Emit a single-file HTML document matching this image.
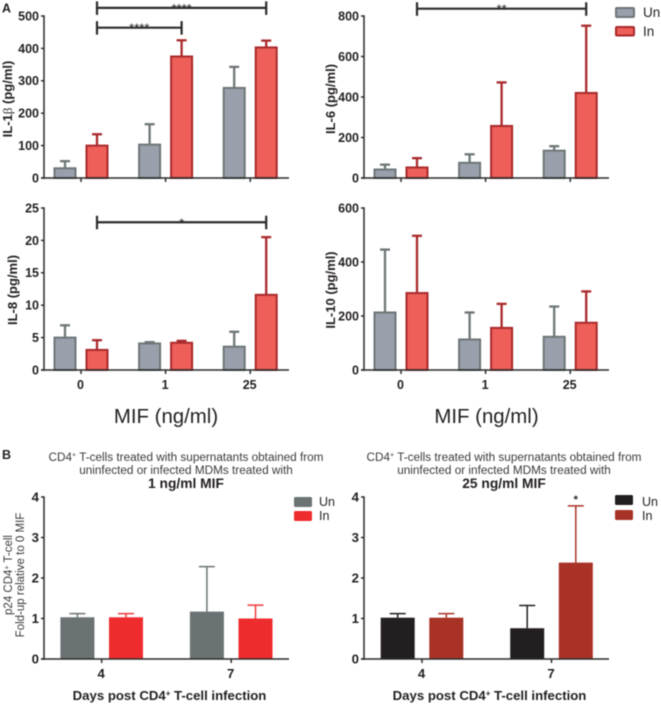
<!DOCTYPE html>
<html lang="en">
<head>
<meta charset="utf-8">
<title>Cytokine and p24 bar charts</title>
<style>
html,body{margin:0;padding:0;background:#fff;width:661px;height:705px;overflow:hidden}
svg{display:block;filter:blur(.4px)}
text{font-family:"Liberation Sans",sans-serif;fill:#231f20}
.b{font-weight:700}
.t{fill:#3a3a3a}
</style>
</head>
<body>
<svg id="figure" xmlns="http://www.w3.org/2000/svg" width="661" height="705" viewBox="0 0 661 705">
  <text class="b" x="2" y="12.5" font-size="12.5">A</text>
  <text class="b" x="2" y="459" font-size="12.5">B</text>

  <text class="b" transform="translate(12,99) rotate(-90)" text-anchor="middle" font-size="13">IL-1<tspan font-family="Liberation Serif" font-weight="400">β</tspan> (pg/ml)</text>
  <text class="b" transform="translate(335,99) rotate(-90)" text-anchor="middle" font-size="13">IL-6 (pg/ml)</text>
  <text class="b" transform="translate(17,290) rotate(-90)" text-anchor="middle" font-size="13">IL-8 (pg/ml)</text>
  <text class="b" transform="translate(335,290) rotate(-90)" text-anchor="middle" font-size="13">IL-10 (pg/ml)</text>

  <text x="166" y="423" text-anchor="middle" font-size="20.4">MIF (ng/ml)</text>
  <text x="486.5" y="423" text-anchor="middle" font-size="20.4">MIF (ng/ml)</text>

  <text class="t" x="186" y="461" text-anchor="middle" font-size="11.75">CD4<tspan font-size="7" dy="-4">+</tspan><tspan dy="4"> T-cells treated with supernatants obtained from</tspan></text>
  <text class="t" x="186" y="474" text-anchor="middle" font-size="11.75">uninfected or infected MDMs treated with</text>
  <text class="b" x="186" y="488" text-anchor="middle" font-size="13.8">1 ng/ml MIF</text>
  <text class="t" x="504" y="461" text-anchor="middle" font-size="11.75">CD4<tspan font-size="7" dy="-4">+</tspan><tspan dy="4"> T-cells treated with supernatants obtained from</tspan></text>
  <text class="t" x="504" y="474" text-anchor="middle" font-size="11.75">uninfected or infected MDMs treated with</text>
  <text class="b" x="504" y="488" text-anchor="middle" font-size="13.8">25 ng/ml MIF</text>

  <text class="t" transform="translate(12,575) rotate(-90)" text-anchor="middle" font-size="11.5">p24 CD4<tspan font-size="7" dy="-3">+</tspan><tspan dy="3"> T-cell</tspan></text>
  <text class="t" transform="translate(24,575) rotate(-90)" text-anchor="middle" font-size="11.5">Fold-up relative to 0 MIF</text>

  <text class="b" x="169.5" y="700" text-anchor="middle" font-size="13.2">Days post CD4<tspan font-size="8" dy="-4">+</tspan><tspan dy="4"> T-cell infection</tspan></text>
  <text class="b" x="489.5" y="700" text-anchor="middle" font-size="13.2">Days post CD4<tspan font-size="8" dy="-4">+</tspan><tspan dy="4"> T-cell infection</tspan></text>

  <g>
    <rect x="616" y="8" width="18" height="9" rx="1" fill="#9aa0ab" stroke="#6d7677" stroke-width="2"/>
    <text x="643" y="17" font-size="13.5">Un</text>
    <rect x="616" y="27" width="18" height="8.5" rx="1" fill="#ed5f58" stroke="#a92a2c" stroke-width="2"/>
    <text x="643" y="36" font-size="13.5">In</text>
  </g>
  <g>
    <rect x="294" y="497" width="18" height="10" rx="1.5" fill="#6b7274"/>
    <text x="319" y="506" font-size="12.5">Un</text>
    <rect x="294" y="511" width="18" height="10" rx="1.5" fill="#ee2c2e"/>
    <text x="319" y="520" font-size="12.5">In</text>
  </g>
  <g>
    <rect x="615" y="495" width="18" height="10" rx="1.5" fill="#231f20"/>
    <text x="642" y="506" font-size="12.5">Un</text>
    <rect x="615" y="510" width="18" height="10" rx="1.5" fill="#a93226"/>
    <text x="642" y="520" font-size="12.5">In</text>
  </g>
</svg>
<script>
// Categories
const mifDoses = ['0', '1', '25'];
const dayLabels = ['4', '7'];

// Tick labels
const il1bTicks = [0, 100, 200, 300, 400, 500];
const il6Ticks = [0, 200, 400, 600, 800];
const il8Ticks = [0, 5, 10, 15, 20, 25];
const il10Ticks = [0, 200, 400, 600];
const foldTicks = [0, 1, 2, 3, 4];

// IL-1 beta
const il1bUn = [30, 103, 278];
const il1bUnErr = [52, 166, 343];
const il1bIn = [100, 375, 403];
const il1bInErr = [135, 425, 424];

// IL-6
const il6Un = [42, 75, 135];
const il6UnErr = [66, 117, 157];
const il6In = [52, 257, 420];
const il6InErr = [98, 472, 752];

// IL-8
const il8Un = [5, 4.1, 3.6];
const il8UnErr = [6.9, 4.3, 5.9];
const il8In = [3.1, 4.2, 11.6];
const il8InErr = [4.6, 4.5, 20.5];

// IL-10
const il10Un = [213, 113, 123];
const il10UnErr = [446, 213, 235];
const il10In = [285, 156, 175];
const il10InErr = [497, 245, 291];

// p24, 1 ng/ml MIF
const p24LowUn = [1.03, 1.17];
const p24LowUnErr = [1.12, 2.28];
const p24LowIn = [1.03, 1.0];
const p24LowInErr = [1.12, 1.33];

// p24, 25 ng/ml MIF
const p24HighUn = [1.02, 0.76];
const p24HighUnErr = [1.12, 1.32];
const p24HighIn = [1.02, 2.38];
const p24HighInErr = [1.12, 3.78];

// Significance brackets: from group, to group, level on the value axis, label
const il1bSigFrom = [0, 0];
const il1bSigTo = [2, 1];
const il1bSigLevel = [525, 464];
const il1bSigLabel = ['****', '****'];
const il6SigFrom = [0];
const il6SigTo = [2];
const il6SigLevel = [836];
const il6SigLabel = ['**'];
const il8SigFrom = [0];
const il8SigTo = [2];
const il8SigLevel = [22.8];
const il8SigLabel = ['*'];

const NS = 'http://www.w3.org/2000/svg';
const figure = document.getElementById('figure');

function add(parent, tag, attrs, txt) {
  const el = document.createElementNS(NS, tag);
  for (const k in attrs) el.setAttribute(k, attrs[k]);
  if (txt !== undefined) el.textContent = txt;
  parent.appendChild(el);
  return el;
}

function drawChart(c) {
  const g = add(figure, 'g', {});
  
  
  const maxV = c.ticks[c.ticks.length - 1];
  const yOf = v => c.y0 - v / maxV * (c.y0 - c.yTop);
  const xOf = i => c.cx0 + i * c.step;
  const xUn = i => xOf(i) - c.offset;
  const xIn = i => xOf(i) + c.offset;

  function series(vals, errs, xFn, fill, stroke, key) {
    vals.forEach((v, i) => {
      const x = xFn(i);
      const err = add(g, 'line', {x1: x, x2: x, y1: yOf(v), y2: yOf(errs[i]), stroke: c.errColor ? c.errColor[key] : stroke, 'stroke-width': c.errWidth});
      
      
      const cap = add(g, 'line', {x1: x - c.capW / 2, x2: x + c.capW / 2, y1: yOf(errs[i]), y2: yOf(errs[i]), stroke: c.errColor ? c.errColor[key] : stroke, 'stroke-width': c.errWidth});
      
      
      const sw = c.barStroke;
      const bar = add(g, 'rect', {x: x - c.barW / 2 + sw / 2, y: yOf(v), width: c.barW - sw, height: c.y0 - yOf(v), fill: fill, stroke: sw ? stroke : 'none', 'stroke-width': sw});
      
      
    });
  }
  series(c.un, c.unErr, xUn, c.unFill, c.unStroke, 'un');
  series(c.inf, c.infErr, xIn, c.inFill, c.inStroke, 'in');

  const yAxis = add(g, 'line', {x1: c.ax, x2: c.ax, y1: c.yTop - .7, y2: c.y0 + .7, stroke: '#2b2b2b', 'stroke-width': 1.5});
  
  
  const xAxis = add(g, 'line', {x1: c.ax - 3, x2: c.ax + 245, y1: c.y0, y2: c.y0, stroke: '#2b2b2b', 'stroke-width': 1.5});
  
  

  c.ticks.forEach(t => {
    const tick = add(g, 'line', {x1: c.ax - 3, x2: c.ax, y1: yOf(t), y2: yOf(t), stroke: '#2b2b2b', 'stroke-width': 1.5});
    
    
    const lab = add(g, 'text', {x: c.ax - 5, y: yOf(t) + 4.4, 'text-anchor': 'end', 'font-size': c.tickFont, 'font-weight': 700}, String(t));
    
    
  });

  c.categories.forEach((cat, i) => {
    const tick = add(g, 'line', {x1: xOf(i), x2: xOf(i), y1: c.y0, y2: c.y0 + 4, stroke: '#2b2b2b', 'stroke-width': 1.5});
    
    
    if (c.showX) {
      const lab = add(g, 'text', {x: xOf(i) - .5, y: c.y0 + c.xLabelDy, 'text-anchor': 'middle', 'font-size': c.tickFont, 'font-weight': 700}, cat);
      
      
    }
  });

  (c.sigFrom || []).forEach((from, i) => {
    const x1 = xIn(from), x2 = xIn(c.sigTo[i]), y = yOf(c.sigLevel[i]);
    const b = add(g, 'path', {d: 'M' + x1 + ' ' + (y - 6.5) + 'V' + (y + 7) + 'M' + x1 + ' ' + y + 'H' + x2 + 'M' + x2 + ' ' + (y - 6.5) + 'V' + (y + 7), fill: 'none', stroke: '#2b2b2b', 'stroke-width': 2.2});
    
    
    const s = add(g, 'text', {x: (x1 + x2) / 2, y: y + 5, 'text-anchor': 'middle', 'font-size': 13}, c.sigLabel[i]);
    
    
  });
  return {xIn, yOf, g};
}

const styleA = {categories: mifDoses, step: 84.6, offset: 16, barW: 23, barStroke: 2, capW: 10, errWidth: 2.3,
  unFill: '#9aa0ab', unStroke: '#6d7677', inFill: '#ed5f58', inStroke: '#a92a2c', tickFont: 12.5, xLabelDy: 19};
const styleB = {categories: dayLabels, step: 129.5, offset: 24.3, barW: 34, barStroke: 0, capW: 16, errWidth: 1.5, tickFont: 13.2, xLabelDy: 19, showX: true};

drawChart(Object.assign({}, styleA, {name: 'il1b', ax: 44, cx0: 81, y0: 178, yTop: 16, ticks: il1bTicks,
  un: il1bUn, unErr: il1bUnErr, inf: il1bIn, infErr: il1bInErr,
  sigFrom: il1bSigFrom, sigTo: il1bSigTo, sigLevel: il1bSigLevel, sigLabel: il1bSigLabel}));
drawChart(Object.assign({}, styleA, {name: 'il6', ax: 364, cx0: 401, y0: 178, yTop: 16, ticks: il6Ticks,
  un: il6Un, unErr: il6UnErr, inf: il6In, infErr: il6InErr,
  sigFrom: il6SigFrom, sigTo: il6SigTo, sigLevel: il6SigLevel, sigLabel: il6SigLabel}));
drawChart(Object.assign({}, styleA, {name: 'il8', ax: 44, cx0: 81, y0: 370, yTop: 208, ticks: il8Ticks, showX: true,
  un: il8Un, unErr: il8UnErr, inf: il8In, infErr: il8InErr,
  sigFrom: il8SigFrom, sigTo: il8SigTo, sigLevel: il8SigLevel, sigLabel: il8SigLabel}));
drawChart(Object.assign({}, styleA, {name: 'il10', ax: 364, cx0: 401, y0: 370, yTop: 208, ticks: il10Ticks, showX: true,
  un: il10Un, unErr: il10UnErr, inf: il10In, infErr: il10InErr}));
drawChart(Object.assign({}, styleB, {name: 'p24-1ng', ax: 44, cx0: 101.7, y0: 659, yTop: 497, ticks: foldTicks,
  unFill: '#6b7274', unStroke: '#6b7274', inFill: '#ee2c2e', inStroke: '#ee2c2e',
  errColor: {un: '#6b7274', in: '#ee3a3c'},
  un: p24LowUn, unErr: p24LowUnErr, inf: p24LowIn, infErr: p24LowInErr}));
const high = drawChart(Object.assign({}, styleB, {name: 'p24-25ng', ax: 364, cx0: 422, y0: 659, yTop: 497, ticks: foldTicks,
  unFill: '#231f20', unStroke: '#231f20', inFill: '#a93226', inStroke: '#a93226',
  errColor: {un: '#231f20', in: '#a93226'},
  un: p24HighUn, unErr: p24HighUnErr, inf: p24HighIn, infErr: p24HighInErr}));

const highStar = add(high.g, 'text', {x: high.xIn(1), y: high.yOf(p24HighInErr[1]) - 3, 'text-anchor': 'middle', 'font-size': 11, 'font-weight': 700}, '*');


</script>
</body>
</html>
